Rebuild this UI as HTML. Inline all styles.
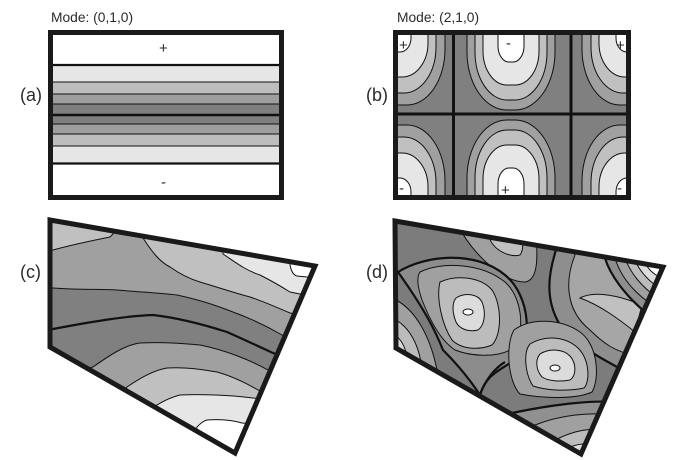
<!DOCTYPE html>
<html><head><meta charset="utf-8"><style>
html,body{margin:0;padding:0;background:#fff;}
svg{display:block;}
text{font-family:"Liberation Sans",sans-serif;fill:#2a2a2a;}
</style></head><body>
<svg width="687" height="460" viewBox="0 0 687 460" xmlns="http://www.w3.org/2000/svg">
<defs>
<clipPath id="cb1"><rect x="398" y="35" width="56" height="79"/></clipPath>
<clipPath id="cb2"><rect x="454" y="35" width="117" height="79"/></clipPath>
<clipPath id="cb3"><rect x="571" y="35" width="58" height="79"/></clipPath>
<clipPath id="cb4"><rect x="398" y="114" width="56" height="81"/></clipPath>
<clipPath id="cb5"><rect x="454" y="114" width="117" height="81"/></clipPath>
<clipPath id="cb6"><rect x="571" y="114" width="58" height="81"/></clipPath>
<clipPath id="cc"><polygon points="50,220 315,266 235,453 50,347"/></clipPath>
<clipPath id="cd"><polygon points="395,221 663,267 581,454 396,348"/></clipPath>
</defs>

<!-- labels -->
<text x="51" y="22" font-size="13.8">Mode: (0,1,0)</text>
<text x="397" y="22" font-size="13.8">Mode: (2,1,0)</text>
<text x="20" y="101" font-size="18">(a)</text>
<text x="366" y="101" font-size="18">(b)</text>
<text x="20" y="278" font-size="18">(c)</text>
<text x="366" y="278" font-size="18">(d)</text>

<!-- panel a -->
<g stroke="#111" stroke-width="1">
<rect x="50" y="32" width="232" height="33" fill="#fff" stroke="none"/>
<rect x="50" y="65" width="232" height="17" fill="#e6e6e6"/>
<rect x="50" y="82" width="232" height="12" fill="#bdbdbd"/>
<rect x="50" y="94" width="232" height="10" fill="#9e9e9e"/>
<rect x="50" y="104" width="232" height="11" fill="#7f7f7f"/>
<rect x="50" y="115" width="232" height="9" fill="#7f7f7f"/>
<rect x="50" y="124" width="232" height="10" fill="#9e9e9e"/>
<rect x="50" y="134" width="232" height="12" fill="#bdbdbd"/>
<rect x="50" y="146" width="232" height="17" fill="#e6e6e6"/>
</g>
<line x1="50" y1="65" x2="282" y2="65" stroke="#111" stroke-width="2.2"/>
<line x1="50" y1="115" x2="282" y2="115" stroke="#111" stroke-width="2.5"/>
<line x1="50" y1="163.5" x2="282" y2="163.5" stroke="#111" stroke-width="2.2"/>
<rect x="50.5" y="32.5" width="231" height="165" fill="none" stroke="#1a1a1a" stroke-width="5"/>
<text x="159" y="53" font-size="15">+</text>
<text x="161" y="187" font-size="15">-</text>

<!-- panel b -->
<rect x="396" y="33" width="235" height="164" fill="#808080"/>
<g stroke="#111" stroke-width="1">
 <g clip-path="url(#cb1)">
  <rect x="351" y="-35" width="94" height="140" rx="38" ry="56" fill="#a0a0a0"/>
  <rect x="360" y="-23" width="76" height="116" rx="32" ry="46" fill="#c0c0c0"/>
  <rect x="368" y="-7" width="60" height="84" rx="26" ry="34" fill="#e6e6e6"/>
  <rect x="385" y="18" width="26" height="34" rx="11" ry="14" fill="#fff"/>
 </g>
 <g clip-path="url(#cb2)">
  <rect x="467" y="-42" width="88" height="152" rx="40" ry="58" fill="#a0a0a0"/>
  <rect x="475" y="-32" width="72" height="132" rx="32" ry="48" fill="#c0c0c0"/>
  <rect x="483" y="-17" width="56" height="102" rx="24" ry="34" fill="#e6e6e6"/>
  <rect x="498" y="8" width="26" height="54" rx="11" ry="16" fill="#fff"/>
 </g>
 <g clip-path="url(#cb3)">
  <rect x="582" y="-35" width="94" height="140" rx="38" ry="56" fill="#a0a0a0"/>
  <rect x="591" y="-23" width="76" height="116" rx="32" ry="46" fill="#c0c0c0"/>
  <rect x="599" y="-7" width="60" height="84" rx="26" ry="34" fill="#e6e6e6"/>
  <rect x="616" y="18" width="26" height="34" rx="11" ry="14" fill="#fff"/>
 </g>
 <g clip-path="url(#cb4)">
  <rect x="351" y="125" width="94" height="140" rx="38" ry="56" fill="#a0a0a0"/>
  <rect x="360" y="137" width="76" height="116" rx="32" ry="46" fill="#c0c0c0"/>
  <rect x="368" y="153" width="60" height="84" rx="26" ry="34" fill="#e6e6e6"/>
  <rect x="385" y="178" width="26" height="34" rx="11" ry="14" fill="#fff"/>
 </g>
 <g clip-path="url(#cb5)">
  <rect x="467" y="120" width="88" height="152" rx="40" ry="58" fill="#a0a0a0"/>
  <rect x="475" y="130" width="72" height="132" rx="32" ry="48" fill="#c0c0c0"/>
  <rect x="483" y="145" width="56" height="102" rx="24" ry="34" fill="#e6e6e6"/>
  <rect x="498" y="168" width="26" height="54" rx="11" ry="16" fill="#fff"/>
 </g>
 <g clip-path="url(#cb6)">
  <rect x="582" y="125" width="94" height="140" rx="38" ry="56" fill="#a0a0a0"/>
  <rect x="591" y="137" width="76" height="116" rx="32" ry="46" fill="#c0c0c0"/>
  <rect x="599" y="153" width="60" height="84" rx="26" ry="34" fill="#e6e6e6"/>
  <rect x="616" y="178" width="26" height="34" rx="11" ry="14" fill="#fff"/>
 </g>
</g>
<line x1="453.5" y1="33" x2="453.5" y2="197" stroke="#111" stroke-width="3"/>
<line x1="571" y1="33" x2="571" y2="197" stroke="#111" stroke-width="3"/>
<line x1="396" y1="114" x2="631" y2="114" stroke="#111" stroke-width="3"/>
<rect x="395.5" y="32.5" width="233" height="165" fill="none" stroke="#1a1a1a" stroke-width="5"/>
<text x="399" y="50" font-size="15">+</text>
<text x="506" y="48" font-size="15">-</text>
<text x="616" y="50" font-size="15">+</text>
<text x="399" y="193" font-size="15">-</text>
<text x="501" y="195" font-size="15">+</text>
<text x="617" y="193" font-size="15">-</text>

<!-- panel c -->
<g clip-path="url(#cc)" stroke="#111" stroke-width="1">
 <rect x="40" y="210" width="290" height="250" fill="#808080" stroke="none"/>
 <path d="M40,288 L53,288 C80,290 100,289 117,290 C140,292 160,293 177,295 C200,300 215,305 233,312 C255,320 270,328 282,335 L330,350 L330,200 L40,200 Z" fill="#a0a0a0"/>
 <path d="M143,200 L143,238 C152,252 160,262 170,267 C180,274 190,279 200,282 C220,288 235,293 250,297 C265,302 278,308 290,313 L330,320 L330,200 Z" fill="#c0c0c0"/>
 <path d="M40,200 L40,252 L53,250 C75,244 95,240 110,237 L113,234 L113,200 Z" fill="#c0c0c0"/>
 <path d="M223,200 L223,254 C235,262 245,270 260,275 C272,281 282,287 290,292 L330,300 L330,200 Z" fill="#e6e6e6"/>
 <path d="M290,250 L290,265 C291,270 293,275 297,276 L307,277 L330,280 L330,250 Z" fill="#fff"/>
 <path d="M40,460 L40,380 L93,367 C110,355 125,345 140,343 C160,342 180,343 200,345 C225,350 250,360 268,370 L330,390 L330,460 Z" fill="#a0a0a0"/>
 <path d="M40,460 L127,387 C140,378 155,370 167,368 C185,367 200,369 217,372 C235,377 250,385 263,393 L330,410 L330,460 Z" fill="#c0c0c0"/>
 <path d="M40,460 L157,405 C165,400 172,397 180,395 C200,394 230,395 253,398 L330,405 L330,460 Z" fill="#e6e6e6"/>
 <path d="M190,460 L197,427 C200,424 203,421 207,420 C220,419 232,420 242,423 L330,430 L330,460 Z" fill="#fff"/>
 <path d="M40,330 L53,329 C90,322 125,316 153,315 C180,318 205,325 227,332 C245,340 260,347 273,353 L330,372" fill="none" stroke-width="2.2"/>
</g>
<polygon points="50,220 315,266 235,453 50,347" fill="none" stroke="#1a1a1a" stroke-width="5" stroke-linejoin="miter"/>

<!-- panel d -->
<g clip-path="url(#cd)" stroke="#111" stroke-width="1">
 <rect x="385" y="210" width="290" height="250" fill="#7c7c7c" stroke="none"/>
 <path d="M556,210 L556,250 C548,275 545,300 560,325 C580,350 610,362 622,370 L680,380 L680,210 Z" fill="#8e8e8e" stroke="none"/>
 <path d="M575,210 L575,255 C565,280 565,310 590,330 C605,345 615,350 628,354 L680,260 L680,210 Z" fill="#a6a6a6"/>
 <path d="M580,298 C600,305 620,320 635,332 L642,305 C620,296 595,290 580,298 Z" fill="#c0c0c0"/>
 <path d="M605,210 L605,258 C610,275 625,295 645,312 L680,270 L680,210 Z" fill="#8e8e8e"/>
 <path d="M615,210 L615,258 C620,275 632,290 648,302 L680,262 L680,210 Z" fill="#a0a0a0"/>
 <path d="M625,210 L625,258 C630,272 640,284 651,293 L680,262 L680,210 Z" fill="#bcbcbc"/>
 <path d="M635,210 L635,260 C639,270 646,278 655,285 L680,262 L680,210 Z" fill="#dcdcdc"/>
 <path d="M645,262 C648,270 655,275 660,277 L668,262 Z" fill="#fff"/>
 <path d="M556,210 L556,250 C548,275 545,300 560,325 C580,350 610,362 622,370" fill="none" stroke-width="2.2"/>
 <path d="M605,210 L605,258 C610,275 625,295 645,312" fill="none" stroke-width="2.2"/>
 <path d="M456,210 L456,222 C470,250 500,282 525,282 C540,280 537,250 536,232 L536,210 Z" fill="#a0a0a0"/>
 <path d="M488,210 L488,232 C490,250 510,258 520,255 C525,248 522,238 520,232 L520,210 Z" fill="#c0c0c0"/>
 <path d="M392,270 L398,272 C425,255 475,250 505,275 C530,295 535,345 512,362 C495,372 485,378 480,395 C465,372 450,357 443,350 C435,330 425,310 398,272 Z" fill="#8c8c8c" stroke-width="2.2"/>
 <path d="M420,272 C440,262 480,262 505,282 C525,300 525,340 510,350 C495,358 470,356 455,350 C440,340 430,320 422,300 C418,288 416,278 420,272 Z" fill="#a0a0a0"/>
 <path d="M440,282 C455,275 480,276 492,290 C502,305 502,335 492,345 C480,350 462,350 452,340 C442,325 436,298 440,282 Z" fill="#bcbcbc"/>
 <path d="M456,298 C465,292 478,294 482,302 C486,312 485,325 478,330 C470,332 460,330 456,322 C452,312 452,303 456,298 Z" fill="#dcdcdc"/>
 <ellipse cx="468" cy="312" rx="5" ry="3" fill="#fff"/>
 <path d="M514,330 C530,318 560,318 580,332 C598,345 600,378 592,392 C575,400 540,398 520,394 C508,382 505,345 514,330 Z" fill="#a0a0a0"/>
 <path d="M530,344 C545,335 565,336 578,348 C590,360 590,382 584,388 C565,392 545,390 533,386 C525,374 523,352 530,344 Z" fill="#bcbcbc"/>
 <path d="M540,354 C550,348 563,349 570,356 C577,364 576,376 570,380 C560,382 548,381 542,377 C536,370 535,360 540,354 Z" fill="#dcdcdc"/>
 <ellipse cx="555" cy="368" rx="5" ry="3" fill="#fff"/>
 <path d="M385,298 L396,300 C415,310 430,335 437,370 L385,370 Z" fill="#a0a0a0"/>
 <path d="M385,318 L396,320 C410,328 418,345 421,362 L385,362 Z" fill="#bcbcbc"/>
 <path d="M385,334 L396,336 C402,340 405,348 407,355 L385,355 Z" fill="#dcdcdc"/>
 <path d="M500,460 L512,413 C550,405 590,400 615,402 L620,460 Z" fill="#909090"/>
 <path d="M535,460 L535,425 C560,415 590,412 610,415 L615,460 Z" fill="#a0a0a0"/>
 <path d="M555,460 L555,440 C575,430 590,428 605,430 L610,460 Z" fill="#bcbcbc"/>
 <path d="M568,460 L570,447 C580,443 590,443 600,445 L600,460 Z" fill="#dcdcdc"/>
 <path d="M512,413 C550,405 590,400 615,402" fill="none" stroke-width="2.2"/>
 <path d="M480,395 C485,380 495,368 505,362" fill="none" stroke-width="2.2"/>
</g>
<polygon points="395,221 663,267 581,454 396,348" fill="none" stroke="#1a1a1a" stroke-width="5" stroke-linejoin="miter"/>
</svg>
</body></html>
